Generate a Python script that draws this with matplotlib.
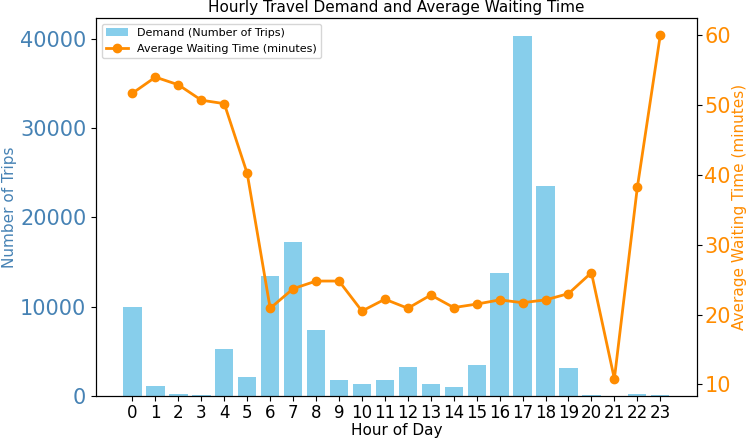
import matplotlib
matplotlib.use("Agg")
import matplotlib.pyplot as plt
from matplotlib.ticker import MultipleLocator

hours = list(range(24))
demand = [10000, 1100, 250, 150, 5300, 2100, 13400, 17300, 7400, 1750, 1340, 1750,
          3270, 1340, 1040, 3460, 13830, 40330, 23570, 3120, 100, 0, 200, 100]
wait = [51.7, 54.0, 52.9, 50.7, 50.2, 40.2, 20.9, 23.7, 24.8, 24.8, 20.5, 22.2,
        20.9, 22.8, 21.0, 21.5, 22.1, 21.7, 22.1, 23.0, 26.0, 10.8, 38.2, 60.0]

fig, ax1 = plt.subplots(figsize=(7.5, 4.4), dpi=100)
bars = ax1.bar(hours, demand, color='skyblue', label='Demand (Number of Trips)')
ax1.set_xlabel('Hour of Day', fontsize=11, labelpad=1)
ax1.set_ylabel('Number of Trips', color='steelblue', fontsize=11, labelpad=2)
ax1.tick_params(axis='y', labelcolor='steelblue', labelsize=15)
ax1.tick_params(axis='x', labelsize=12, pad=2)
ax1.set_xticks(hours)
ax1.yaxis.set_major_locator(MultipleLocator(10000))

ax2 = ax1.twinx()
line, = ax2.plot(hours, wait, color='darkorange', marker='o', linewidth=2,
                 label='Average Waiting Time (minutes)')
ax2.set_ylabel('Average Waiting Time (minutes)', color='darkorange', fontsize=11, labelpad=1)
ax2.tick_params(axis='y', labelcolor='darkorange', labelsize=15, pad=2)

ax1.legend([bars, line], [bars.get_label(), line.get_label()], loc='upper left', fontsize=8)
plt.title('Hourly Travel Demand and Average Waiting Time', fontsize=11, pad=4)
fig.subplots_adjust(left=0.128, right=0.929, bottom=0.1, top=0.959)
fig.savefig('out.png', dpi=100)
